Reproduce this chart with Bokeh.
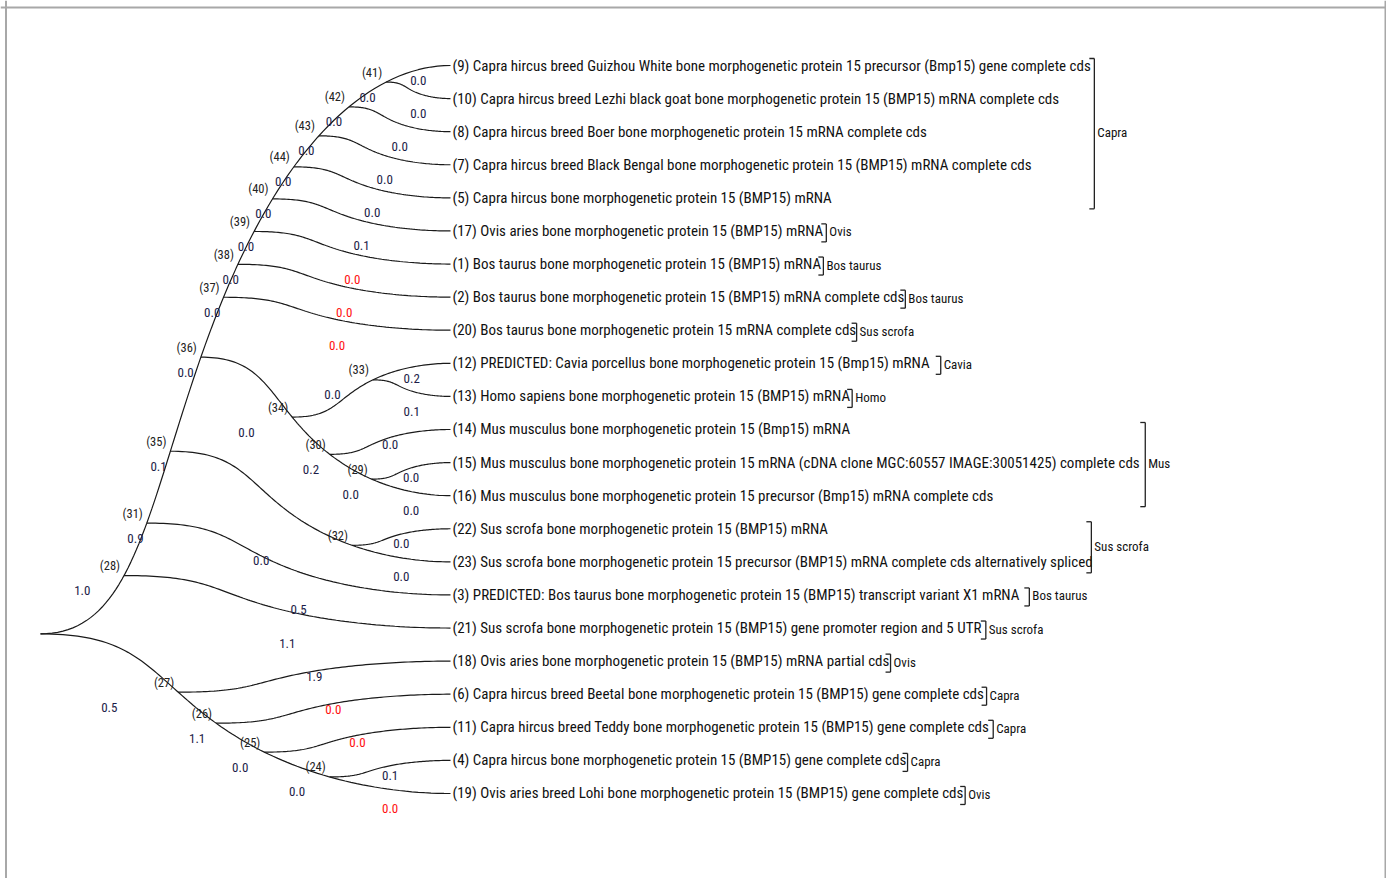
import math
import numpy as np
from bokeh.plotting import figure
from bokeh.models import Range1d, ColumnDataSource, Span
from bokeh.core.properties import value
from bokeh.embed import file_html
from bokeh.resources import INLINE

# ---------------- data ----------------
tip_numbers = [9, 10, 8, 7, 5, 17, 1, 2, 20, 12, 13, 14, 15, 16, 22, 23, 3, 21, 18, 6, 11, 4, 19]
tip_descriptions = [
    "Capra hircus breed Guizhou White bone morphogenetic protein 15 precursor (Bmp15) gene complete cds",
    "Capra hircus breed Lezhi black goat bone morphogenetic protein 15 (BMP15) mRNA complete cds",
    "Capra hircus breed Boer bone morphogenetic protein 15 mRNA complete cds",
    "Capra hircus breed Black Bengal bone morphogenetic protein 15 (BMP15) mRNA complete cds",
    "Capra hircus bone morphogenetic protein 15 (BMP15) mRNA",
    "Ovis aries bone morphogenetic protein 15 (BMP15) mRNA",
    "Bos taurus bone morphogenetic protein 15 (BMP15) mRNA",
    "Bos taurus bone morphogenetic protein 15 (BMP15) mRNA complete cds",
    "Bos taurus bone morphogenetic protein 15 mRNA complete cds",
    "PREDICTED: Cavia porcellus bone morphogenetic protein 15 (Bmp15) mRNA",
    "Homo sapiens bone morphogenetic protein 15 (BMP15) mRNA",
    "Mus musculus bone morphogenetic protein 15 (Bmp15) mRNA",
    "Mus musculus bone morphogenetic protein 15 mRNA (cDNA clone MGC:60557 IMAGE:30051425) complete cds",
    "Mus musculus bone morphogenetic protein 15 precursor (Bmp15) mRNA complete cds",
    "Sus scrofa bone morphogenetic protein 15 (BMP15) mRNA",
    "Sus scrofa bone morphogenetic protein 15 precursor (BMP15) mRNA complete cds alternatively spliced",
    "PREDICTED: Bos taurus bone morphogenetic protein 15 (BMP15) transcript variant X1 mRNA",
    "Sus scrofa bone morphogenetic protein 15 (BMP15) gene promoter region and 5 UTR",
    "Ovis aries bone morphogenetic protein 15 (BMP15) mRNA partial cds",
    "Capra hircus breed Beetal bone morphogenetic protein 15 (BMP15) gene complete cds",
    "Capra hircus breed Teddy bone morphogenetic protein 15 (BMP15) gene complete cds",
    "Capra hircus bone morphogenetic protein 15 (BMP15) gene complete cds",
    "Ovis aries breed Lohi bone morphogenetic protein 15 (BMP15) gene complete cds",
]

# internal nodes (0 = root) with their upper and lower children
internal_nodes = [41, 42, 43, 44, 40, 39, 38, 37, 33, 29, 30, 34, 36, 32, 35, 31, 28, 24, 25, 26, 27, 0]
upper_children = [9, 41, 42, 43, 44, 40, 39, 38, 12, 15, 14, 33, 37, 22, 36, 35, 31, 4, 11, 6, 18, 28]
lower_children = [10, 8, 7, 5, 17, 1, 2, 20, 13, 16, 29, 30, 34, 23, 32, 3, 21, 19, 24, 25, 26, 27]

# branch length of the edge leading into each node
branch_nodes = [9, 10, 41, 8, 42, 7, 43, 5, 44, 17, 40, 1, 39, 2, 38, 20, 37,
                12, 13, 33, 14, 15, 16, 29, 30, 34, 36, 22, 23, 32, 35, 3, 31, 21, 28,
                18, 6, 11, 4, 19, 24, 25, 26, 27]
branch_lengths = [0.0, 0.0, 0.0, 0.0, 0.0, 0.0, 0.0, 0.0, 0.0, 0.1, 0.0, 0.0, 0.0, 0.0, 0.0, 0.0, 0.0,
                  0.2, 0.1, 0.0, 0.0, 0.0, 0.0, 0.0, 0.2, 0.0, 0.0, 0.0, 0.0, 0.0, 0.1, 0.5, 0.9, 1.1, 1.0,
                  1.9, 0.0, 0.0, 0.1, 0.0, 0.0, 0.0, 1.1, 0.5]
red_branch_nodes = [1, 2, 20, 6, 11, 19]

clade_names = ["Capra", "Ovis", "Bos taurus", "Bos taurus", "Sus scrofa", "Cavia", "Homo", "Mus",
               "Sus scrofa", "Bos taurus", "Sus scrofa", "Ovis", "Capra", "Capra", "Capra", "Ovis"]
clade_first = [9, 17, 1, 2, 20, 12, 13, 14, 22, 3, 21, 18, 6, 11, 4, 19]
clade_last = [5, 17, 1, 2, 20, 12, 13, 16, 23, 3, 21, 18, 6, 11, 4, 19]

# ---------------- layout ----------------
W, H = 1386, 878
ROOT_X, TIP_X = 40.0, 450.0
ROW0, ROW_STEP = 65.0, 33.09
# shape of a curved branch: u(t) = t + t(1-t)(P + Q t + S t^2), v(t) = smoothstep(t)
P, Q, S = 0.466, -2.462, 1.421
FONT = "Roboto Condensed"
TIP_SIZE, CLADE_SIZE, NODE_SIZE, LEN_SIZE = 15, 13, 12.5, 13

children = {n: (u, l) for n, u, l in zip(internal_nodes, upper_children, lower_children)}
parent = {}
for n, (u, l) in children.items():
    parent[u] = n
    parent[l] = n

ypos, xpos = {}, {}
for i, n in enumerate(tip_numbers):
    ypos[n] = ROW0 + ROW_STEP * i
    xpos[n] = TIP_X
for n in internal_nodes:
    u, l = children[n]
    ypos[n] = (ypos[u] + ypos[l]) / 2.0
xpos[0] = ROOT_X


def shape_u(t):
    return t + t * (1 - t) * (P + Q * t + S * t * t)


def shape_v(t):
    return 3 * t * t - 2 * t ** 3


def inv_v(v):
    v = min(max(v, 0.0), 1.0)
    return 0.5 - math.sin(math.asin(1 - 2 * v) / 3.0)


def follow(start, side):
    seq = [start]
    while seq[-1] in children:
        seq.append(children[seq[-1]][side])
    return seq


chain_xs, chain_ys = [], []
queue = [(0, 0), (0, 1)]
ts = np.linspace(0, 1, 100)
while queue:
    origin, side = queue.pop(0)
    seq = follow(children[origin][side], side)
    x0, y0 = xpos[origin], ypos[origin]
    yT = ypos[seq[-1]]
    dx, dy = TIP_X - x0, yT - y0
    for n in seq[:-1]:
        t = inv_v((ypos[n] - y0) / dy)
        xpos[n] = x0 + dx * shape_u(t)
    chain_xs.append(list(x0 + dx * shape_u(ts)))
    chain_ys.append(list(y0 + dy * shape_v(ts)))
    for n in seq[:-1]:
        queue.append((n, 1 - side))

# ---------------- figure ----------------
p = figure(width=W, height=H, output_backend="svg", toolbar_location=None,
           x_range=Range1d(0, W), y_range=Range1d(H, 0),
           x_axis_type=None, y_axis_type=None, min_border=0,
           background_fill_color="white", border_fill_color="white",
           outline_line_color=None)
p.grid.visible = False
for loc, dim in [(5.5, "height"), (1385, "height"), (7, "width")]:
    p.add_layout(Span(location=loc, dimension=dim, line_color="#a8a8a8", line_width=2))

p.multi_line(chain_xs, chain_ys, line_color="#1a1a1a", line_width=1.2)

# tip labels
tip_src = ColumnDataSource(dict(
    x=[TIP_X + 2] * len(tip_numbers),
    y=[ypos[n] for n in tip_numbers],
    t=["(%d) %s" % (n, d) for n, d in zip(tip_numbers, tip_descriptions)]))
p.text("x", "y", "t", source=tip_src, text_font=value(FONT), text_font_size="%dpx" % TIP_SIZE,
       text_baseline="middle", text_align="left", text_color="#111111")

# internal node numbers
nn = [n for n in internal_nodes if n != 0]
p.text([xpos[n] - 4 for n in nn], [ypos[n] - 10 for n in nn], ["(%d)" % n for n in nn],
       text_font=value(FONT), text_font_size="%.1fpx" % NODE_SIZE,
       text_baseline="middle", text_align="right", text_color="#222222")

# branch lengths
bl_x = [(xpos[parent[n]] + xpos[n]) / 2.0 for n in branch_nodes]
bl_y = [ypos[n] + 15 for n in branch_nodes]
bl_t = ["%.1f" % v for v in branch_lengths]
bl_c = ["#ff1010" if n in red_branch_nodes else "#1c1c48" for n in branch_nodes]
p.text(bl_x, bl_y, bl_t, text_color=bl_c, text_font=value(FONT),
       text_font_size="%dpx" % LEN_SIZE, text_baseline="middle", text_align="center")

# clade brackets (placed after the estimated end of the label text)
AW = {' ': 278, '(': 333, ')': 333, ':': 278, '.': 278, '-': 333,
      'a': 556, 'b': 556, 'c': 500, 'd': 556, 'e': 556, 'f': 278, 'g': 556, 'h': 556, 'i': 222,
      'j': 222, 'k': 500, 'l': 222, 'm': 833, 'n': 556, 'o': 556, 'p': 556, 'q': 556, 'r': 333,
      's': 500, 't': 278, 'u': 556, 'v': 500, 'w': 722, 'x': 500, 'y': 500, 'z': 500,
      'A': 667, 'B': 667, 'C': 722, 'D': 722, 'E': 667, 'F': 611, 'G': 778, 'H': 722, 'I': 278,
      'J': 500, 'K': 667, 'L': 556, 'M': 833, 'N': 722, 'O': 778, 'P': 667, 'Q': 778, 'R': 722,
      'S': 667, 'T': 611, 'U': 722, 'V': 667, 'W': 944, 'X': 667, 'Y': 667, 'Z': 611}


def text_w(s, size):
    return sum(AW.get(c, 556) for c in s) * 0.82 * size / 1000.0


tip_text = dict(zip(tip_numbers, tip_src.data["t"]))
bx0, by0, bx1, by1 = [], [], [], []
cn_x, cn_y = [], []
for name, a, b in zip(clade_names, clade_first, clade_last):
    ia, ib = tip_numbers.index(a), tip_numbers.index(b)
    members = tip_numbers[ia:ib + 1]
    xb = max(TIP_X + 2 + text_w(tip_text[m], 16.2) for m in members) + 1
    top, bot = ypos[a] - 7, ypos[b] + 11
    bx0 += [xb, xb - 5, xb - 5]
    by0 += [top, top, bot]
    bx1 += [xb, xb, xb]
    by1 += [bot, top, bot]
    cn_x.append(xb + 3)
    cn_y.append((top + bot) / 2.0 - 1)
p.segment(bx0, by0, bx1, by1, line_color="#222222", line_width=1.3)
p.text(cn_x, cn_y, clade_names, text_font=value(FONT), text_font_size="%dpx" % CLADE_SIZE,
       text_baseline="middle", text_align="left", text_color="#111111")

open("out.html", "w").write(file_html(p, INLINE))
